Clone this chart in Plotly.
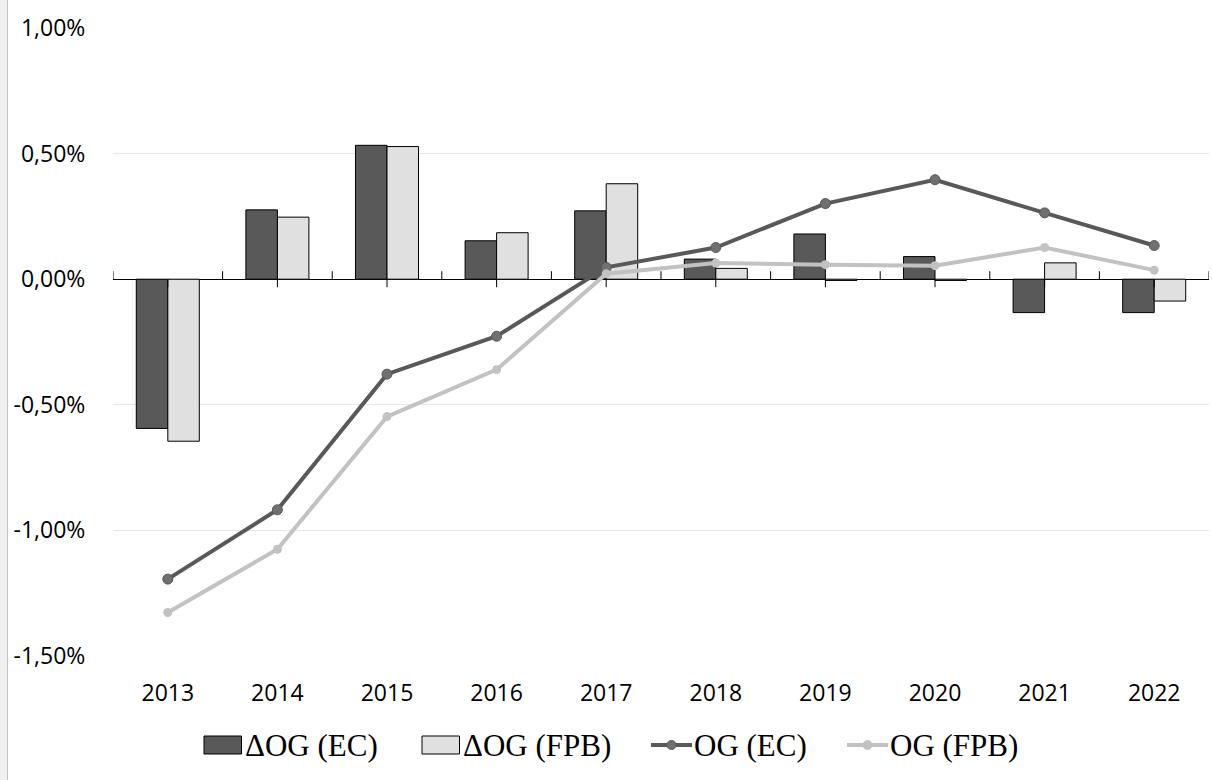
import numpy as np
import plotly.graph_objects as go

# ---- data (percent of potential GDP) ----
years = ["2013", "2014", "2015", "2016", "2017", "2018", "2019", "2020", "2021", "2022"]
d_og_ec = [-0.594, 0.276, 0.533, 0.153, 0.272, 0.080, 0.180, 0.090, -0.133, -0.133]
d_og_fpb = [-0.645, 0.247, 0.528, 0.185, 0.380, 0.043, -0.005, -0.005, 0.065, -0.087]
og_ec = [-1.194, -0.918, -0.378, -0.227, 0.047, 0.126, 0.301, 0.396, 0.264, 0.134]
og_fpb = [-1.327, -1.075, -0.547, -0.360, 0.022, 0.064, 0.058, 0.054, 0.126, 0.036]

y_ticks = [-1.5, -1.0, -0.5, 0.0, 0.5, 1.0]
series_names = ["\u0394OG (EC)", "\u0394OG (FPB)", "OG (EC)", "OG (FPB)"]

# ---- styling ----
W, H = 1212, 780
M_L, M_R, M_T, M_B = 113, 3, 28, 124
PLOT_W = W - M_L - M_R
PLOT_H = H - M_T - M_B

C_DARK = "#595959"
C_LIGHT_BAR = "#e0e0e0"
C_LIGHT_LINE = "#c2c2c2"
C_DARK_MARKER = "#707070"
TICK_FONT = dict(family="Open Sans", size=23, color="#000000")
LEGEND_FONT = dict(family="Liberation Serif", size=31, color="#000000")


def fmt_pct(v):
    return f"{v:.2f}%".replace(".", ",")


def px_x(px):
    return (px - M_L) / PLOT_W


def px_y(py):
    return (H - M_B - py) / PLOT_H


fig = go.Figure()

fig.add_trace(go.Bar(
    x=years, y=d_og_ec, name=series_names[0],
    marker=dict(color=C_DARK, line=dict(color="#000000", width=1)),
))
fig.add_trace(go.Bar(
    x=years, y=d_og_fpb, name=series_names[1],
    marker=dict(color=C_LIGHT_BAR, line=dict(color="#000000", width=1)),
))
fig.add_trace(go.Scatter(
    x=years, y=og_ec, name=series_names[2], mode="lines+markers",
    line=dict(color=C_DARK, width=4),
    marker=dict(size=10, color=C_DARK_MARKER, line=dict(color=C_DARK, width=1)),
))
fig.add_trace(go.Scatter(
    x=years, y=og_fpb, name=series_names[3], mode="lines+markers",
    line=dict(color=C_LIGHT_LINE, width=4),
    marker=dict(size=9, color=C_LIGHT_LINE),
))

shapes = []
n = len(years)
# category-axis tick marks on the zero line: up at boundaries, down at centres
for k in range(n + 1):
    shapes.append(dict(type="line", xref="x", yref="y", ysizemode="pixel",
                       yanchor=0, x0=k - 0.5, x1=k - 0.5, y0=0, y1=8,
                       line=dict(color="#000000", width=1)))
for k in range(n):
    shapes.append(dict(type="line", xref="x", yref="y", ysizemode="pixel",
                       yanchor=0, x0=k, x1=k, y0=0, y1=-8,
                       line=dict(color="#000000", width=1)))

# left frame strip
shapes.append(dict(type="rect", xref="paper", yref="paper", layer="below",
                   x0=px_x(0), x1=px_x(7), y0=px_y(H), y1=px_y(0),
                   fillcolor="#f0f0f0", line=dict(width=0)))
shapes.append(dict(type="line", xref="paper", yref="paper",
                   x0=px_x(7.5), x1=px_x(7.5), y0=px_y(H), y1=px_y(0),
                   line=dict(color="#c4c4c4", width=1)))

# custom legend row
annotations = []
LEG_Y = 745
legend_items = [
    ("bar", C_DARK, None, 204, 244),
    ("bar", C_LIGHT_BAR, None, 422, 462),
    ("line", C_DARK, C_DARK_MARKER, 651, 693),
    ("line", C_LIGHT_LINE, C_LIGHT_LINE, 847, 889),
]
for (kind, col, mcol, sx, tx), name in zip(legend_items, series_names):
    if kind == "bar":
        shapes.append(dict(type="rect", xref="paper", yref="paper",
                           x0=px_x(sx), x1=px_x(sx + 37.5),
                           y0=px_y(LEG_Y + 9), y1=px_y(LEG_Y - 9),
                           fillcolor=col, line=dict(color="#000000", width=1)))
    else:
        shapes.append(dict(type="line", xref="paper", yref="paper",
                           x0=px_x(sx), x1=px_x(sx + 41),
                           y0=px_y(LEG_Y), y1=px_y(LEG_Y),
                           line=dict(color=col, width=4)))
        shapes.append(dict(type="circle", xref="paper", yref="paper",
                           x0=px_x(sx + 20.5 - 4.5), x1=px_x(sx + 20.5 + 4.5),
                           y0=px_y(LEG_Y + 4.5), y1=px_y(LEG_Y - 4.5),
                           fillcolor=mcol, line=dict(color=col, width=1)))
    annotations.append(dict(text=name, xref="paper", yref="paper",
                            x=px_x(tx), y=px_y(LEG_Y), xanchor="left",
                            yanchor="middle", showarrow=False, font=LEGEND_FONT,
                            borderpad=0))

fig.update_layout(
    width=W, height=H,
    margin=dict(l=M_L, r=M_R, t=M_T, b=M_B),
    paper_bgcolor="#ffffff", plot_bgcolor="#ffffff",
    barmode="group", bargap=0.425, bargroupgap=0,
    showlegend=False,
    shapes=shapes, annotations=annotations,
    xaxis=dict(
        type="category", categoryorder="array", categoryarray=years,
        range=[-0.5, n - 0.5],
        showgrid=False, showline=False, zeroline=False,
        ticks="outside", ticklen=16, tickcolor="rgba(0,0,0,0)",
        tickfont=TICK_FONT,
    ),
    yaxis=dict(
        range=[y_ticks[0], y_ticks[-1]],
        tickmode="array", tickvals=y_ticks,
        ticktext=[fmt_pct(v) for v in y_ticks],
        showgrid=True, gridcolor="#e6e6e6", gridwidth=1,
        zeroline=True, zerolinecolor="#000000", zerolinewidth=1,
        showline=False,
        ticks="outside", ticklen=22, tickcolor="rgba(0,0,0,0)",
        tickfont=TICK_FONT,
    ),
)

fig.write_html("out.html")
